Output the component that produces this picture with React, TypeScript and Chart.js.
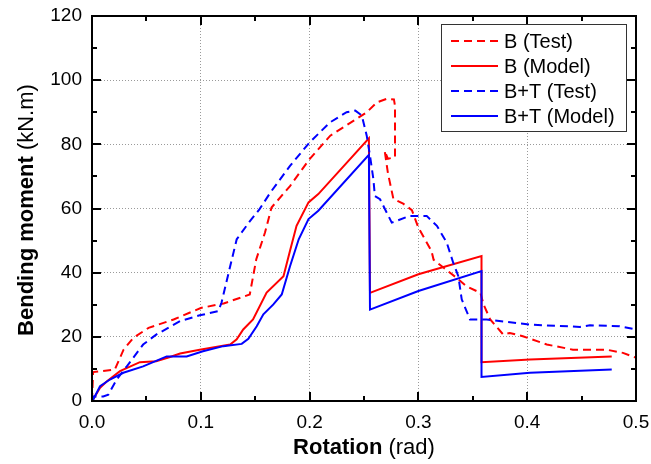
import React, { useEffect, useRef } from 'react';
import { Chart, registerables } from 'chart.js';

Chart.register(...registerables);

const FONT = "Arial, 'Liberation Sans', sans-serif";

const seriesLabels = ['B (Test)', 'B (Model)', 'B+T (Test)', 'B+T (Model)'];

const bTestX = [0, 0.001, 0.021, 0.029, 0.038, 0.052, 0.075, 0.1, 0.121, 0.145, 0.151, 0.159, 0.165, 0.182, 0.2, 0.219, 0.243, 0.2525, 0.262, 0.271, 0.2775, 0.2785, 0.2785, 0.272, 0.269, 0.272, 0.277, 0.286, 0.294, 0.3, 0.312, 0.314, 0.323, 0.335, 0.344, 0.357, 0.36, 0.366, 0.378, 0.384, 0.396, 0.418, 0.442, 0.473, 0.488, 0.5];
const bTestY = [0, 9, 9.8, 16, 19.7, 22.8, 25.4, 29, 30.4, 33.2, 44.2, 52.5, 60.3, 67, 75.4, 82.7, 87.9, 90, 93.1, 94.2, 94, 92, 76, 75.5, 78, 71, 63, 61.5, 59.5, 54, 46.8, 44, 41.6, 38.4, 35.8, 33.7, 30, 25.4, 20.7, 21.2, 20.2, 17.6, 16, 16, 15, 13.5];

const bModelX = [0, 0.001, 0.0074, 0.0135, 0.0257, 0.044, 0.059, 0.0717, 0.081, 0.099, 0.127, 0.133, 0.139, 0.148, 0.1605, 0.176, 0.182, 0.188, 0.199, 0.208, 0.2545, 0.2555, 0.3, 0.358, 0.358, 0.4026, 0.4777];
const bModelY = [0, 0.4, 4.1, 6.1, 9.3, 12.1, 12.4, 13.7, 14.8, 16, 17.6, 19.2, 22.3, 25.4, 33.8, 38.9, 46.8, 54.6, 61.9, 64.5, 81.9, 33.7, 39.5, 45.2, 12.1, 12.9, 13.9];

const btTestX = [0, 0.001, 0.0104, 0.015, 0.0227, 0.032, 0.047, 0.059, 0.081, 0.099, 0.116, 0.119, 0.127, 0.133, 0.145, 0.154, 0.164, 0.182, 0.2, 0.219, 0.234, 0.242, 0.248, 0.2525, 0.2555, 0.2586, 0.26, 0.2647, 0.2755, 0.292, 0.3076, 0.317, 0.326, 0.332, 0.3367, 0.3398, 0.3474, 0.3628, 0.4026, 0.4485, 0.4577, 0.485, 0.5];
const btTestY = [0, 1.4, 1.4, 2, 6.7, 10.8, 17.6, 20.7, 24.9, 26.7, 28, 30.6, 42, 50.4, 56, 59.8, 65, 73.3, 80.6, 86.9, 90, 90.5, 89, 82.7, 76.5, 69.2, 63.9, 62.9, 55.6, 57.7, 57.7, 54.6, 49.4, 43.1, 38.9, 31.7, 25.4, 25.4, 23.8, 23.1, 23.6, 23.3, 22.3];

const btModelX = [0, 0.001, 0.0074, 0.0165, 0.0288, 0.047, 0.0686, 0.087, 0.102, 0.1207, 0.1376, 0.1437, 0.1514, 0.1575, 0.1667, 0.1744, 0.182, 0.19, 0.199, 0.208, 0.2545, 0.2555, 0.3, 0.358, 0.358, 0.4026, 0.4777];
const btModelY = [0, 0.4, 4.6, 6.7, 8.8, 10.8, 13.9, 13.9, 15.5, 17.1, 17.8, 19.4, 23.3, 27, 30.1, 33.2, 42, 50.4, 56.7, 59.3, 76.7, 28.5, 34.3, 40.5, 7.5, 8.8, 9.8];

const xMajorTicks = [0.1, 0.2, 0.3, 0.4];
const xMinorTicks = [0.05, 0.15, 0.25, 0.35, 0.45];
const yMajorTicks = [20, 40, 60, 80, 100];
const yMinorTicks = [10, 30, 50, 70, 90, 110];

const RED = '#ff0000';
const BLUE = '#0000ff';
const DASH = [8, 5];

function pts(xs: number[], ys: number[]) {
  return xs.map((x, i) => ({ x, y: ys[i] }));
}

const decorPlugin = {
  id: 'decor',
  afterDatasetsDraw(chart: any) {
    const { ctx, chartArea: a, scales } = chart;
    const sx = scales.x;
    const sy = scales.y;
    ctx.save();
    ctx.setLineDash([]);
    ctx.strokeStyle = '#000';
    ctx.lineWidth = 2;
    ctx.strokeRect(a.left, a.top, a.right - a.left, a.bottom - a.top);
    ctx.beginPath();
    const xt = (vals: number[], len: number) => {
      vals.forEach((v) => {
        const p = Math.round(sx.getPixelForValue(v));
        ctx.moveTo(p, a.bottom);
        ctx.lineTo(p, a.bottom - len);
        ctx.moveTo(p, a.top);
        ctx.lineTo(p, a.top + len);
      });
    };
    const yt = (vals: number[], len: number) => {
      vals.forEach((v) => {
        const p = Math.round(sy.getPixelForValue(v));
        ctx.moveTo(a.left, p);
        ctx.lineTo(a.left + len, p);
        ctx.moveTo(a.right, p);
        ctx.lineTo(a.right - len, p);
      });
    };
    xt(xMajorTicks, 9);
    xt(xMinorTicks, 5);
    yt(yMajorTicks, 9);
    yt(yMinorTicks, 5);
    ctx.stroke();

    // legend
    const lx = 441.5, ly = 24.5, lw = 185, lh = 107;
    ctx.fillStyle = '#fff';
    ctx.fillRect(lx, ly, lw, lh);
    ctx.strokeStyle = '#333';
    ctx.lineWidth = 1;
    ctx.strokeRect(lx, ly, lw, lh);
    ctx.font = `20px ${FONT}`;
    ctx.textBaseline = 'middle';
    ctx.textAlign = 'left';
    chart.data.datasets.forEach((ds: any, i: number) => {
      const y = 41 + i * 25;
      ctx.beginPath();
      ctx.strokeStyle = ds.borderColor;
      ctx.lineWidth = 2;
      ctx.setLineDash(ds.borderDash || []);
      ctx.moveTo(451, y);
      ctx.lineTo(498, y);
      ctx.stroke();
      ctx.setLineDash([]);
      ctx.fillStyle = '#000';
      ctx.fillText(ds.label, 504, y + 1);
    });
    ctx.restore();
  },
  afterDraw(chart: any) {
    const { ctx, chartArea: a } = chart;
    ctx.save();
    ctx.fillStyle = '#000';
    ctx.textBaseline = 'alphabetic';
    ctx.textAlign = 'left';
    const drawMixed = (bold: string, normal: string) => {
      ctx.font = `bold 22px ${FONT}`;
      const wb = ctx.measureText(bold).width;
      ctx.font = `22px ${FONT}`;
      const wn = ctx.measureText(normal).width;
      const total = wb + wn;
      ctx.font = `bold 22px ${FONT}`;
      ctx.fillText(bold, -total / 2, 0);
      ctx.font = `22px ${FONT}`;
      ctx.fillText(normal, -total / 2 + wb, 0);
    };
    ctx.save();
    ctx.translate((a.left + a.right) / 2, 454);
    drawMixed('Rotation', ' (rad)');
    ctx.restore();
    ctx.save();
    ctx.translate(33, 210);
    ctx.rotate(-Math.PI / 2);
    drawMixed('Bending moment', ' (kN.m)');
    ctx.restore();
    ctx.restore();
  },
};

export default function App() {
  const ref = useRef<HTMLCanvasElement | null>(null);
  useEffect(() => {
    if (!ref.current) return;
    const chart = new Chart(ref.current, {
      type: 'scatter',
      data: {
        datasets: [
          { label: seriesLabels[0], data: pts(bTestX, bTestY), borderColor: RED, borderDash: DASH, order: 3 },
          { label: seriesLabels[1], data: pts(bModelX, bModelY), borderColor: RED, order: 2 },
          { label: seriesLabels[2], data: pts(btTestX, btTestY), borderColor: BLUE, borderDash: DASH, order: 1 },
          { label: seriesLabels[3], data: pts(btModelX, btModelY), borderColor: BLUE, order: 0 },
        ].map((d) => ({
          ...d,
          showLine: true,
          borderWidth: 2,
          pointRadius: 0,
          pointHoverRadius: 0,
          tension: 0,
          fill: false,
          backgroundColor: d.borderColor,
        })),
      },
      options: {
        responsive: false,
        animation: false,
        events: [],
        layout: { padding: { left: 0, right: 15, top: 16, bottom: 0 } },
        plugins: {
          legend: { display: false },
          tooltip: { enabled: false },
          title: { display: false },
        },
        scales: {
          x: {
            type: 'linear',
            min: 0,
            max: 0.5,
            afterFit: (s: any) => {
              s.height = 63;
              s.paddingLeft = 0;
              s.paddingRight = 0;
              s.paddingTop = 0;
              s.paddingBottom = 0;
            },
            ticks: {
              stepSize: 0.1,
              padding: 10,
              color: '#000',
              font: { family: FONT, size: 19 },
              maxRotation: 0,
              callback: (v: any) => Number(v).toFixed(1),
            },
            grid: { drawTicks: false, color: '#9a9a9a', lineWidth: 1 },
            border: { display: false, dash: [1, 2] },
          },
          y: {
            type: 'linear',
            min: 0,
            max: 120,
            afterFit: (s: any) => {
              s.width = 92;
              s.paddingLeft = 0;
              s.paddingRight = 0;
              s.paddingTop = 0;
              s.paddingBottom = 0;
            },
            ticks: {
              stepSize: 20,
              padding: 10,
              color: '#000',
              font: { family: FONT, size: 19 },
              callback: (v: any) => String(v),
            },
            grid: { drawTicks: false, color: '#9a9a9a', lineWidth: 1 },
            border: { display: false, dash: [1, 2] },
          },
        },
      },
      plugins: [decorPlugin],
    } as any);
    return () => chart.destroy();
  }, []);
  return (
    <div style={{ position: 'absolute', left: 0, top: 0, width: 651, height: 464, background: '#fff' }}>
      <canvas ref={ref} width={651} height={464} style={{ display: 'block' }} />
    </div>
  );
}
